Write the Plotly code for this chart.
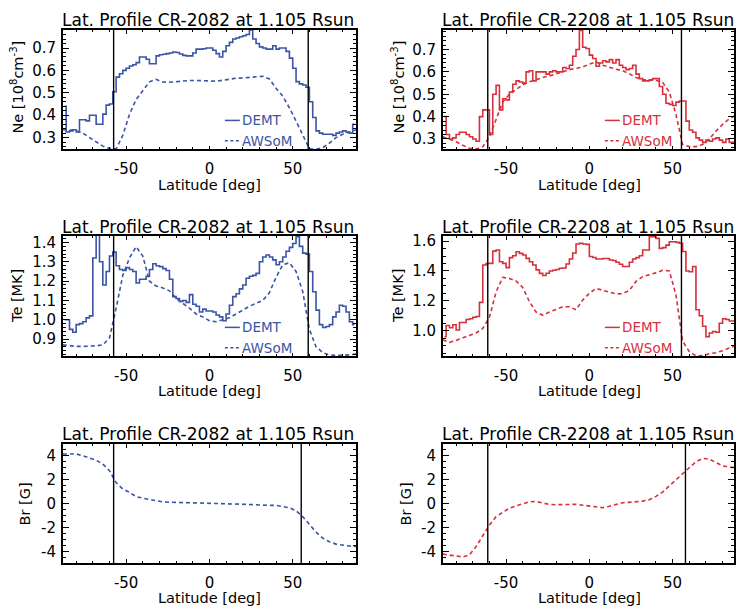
import numpy as np
import plotly.graph_objects as go

W, H = 736, 609
FONT = "DejaVu Sans"
BLUE = "#3b54a6"
RED = "#d6303c"

# ---------------- data ----------------
lat_bins = list(range(-87, 88, 2))    # DEMT 2-deg latitude bins (centres)
lat_model = list(range(-88, 89, 4))   # AWSoM sampling latitudes

lat_tick_vals = [-50, 0, 50]
lat_tick_text = ["-50", "0", "50"]
ne_tick_vals = [0.3, 0.4, 0.5, 0.6, 0.7]
te1_tick_vals = [0.9, 1.0, 1.1, 1.2, 1.3, 1.4]
te2_tick_vals = [1.0, 1.2, 1.4, 1.6]
br_tick_vals = [-4, -2, 0, 2, 4]

title_2082 = "Lat. Profile CR-2082 at 1.105 Rsun"
title_2208 = "Lat. Profile CR-2208 at 1.105 Rsun"
series_names = ["DEMT", "AWSoM"]

ne_demt_2082 = [
    0.44, 0.325, 0.33, 0.335, 0.325, 0.38, 0.38, 0.375, 0.40, 0.40, 0.36, 0.36,
    0.405, 0.445, 0.45, 0.505, 0.57, 0.585, 0.60, 0.61, 0.62, 0.625, 0.635, 0.66,
    0.66, 0.65, 0.63, 0.63, 0.665, 0.67, 0.672, 0.675, 0.678, 0.682, 0.68, 0.673,
    0.667, 0.665, 0.665, 0.678, 0.695, 0.695, 0.697, 0.70,
    0.70, 0.69, 0.675, 0.66, 0.685, 0.71, 0.725, 0.74, 0.745, 0.75, 0.755, 0.76,
    0.781, 0.74, 0.72, 0.705, 0.70, 0.695, 0.695, 0.71, 0.695, 0.70, 0.70, 0.685,
    0.655, 0.61, 0.55, 0.54, 0.535, 0.525, 0.46, 0.39, 0.33, 0.32, 0.315, 0.315,
    0.315, 0.31, 0.32, 0.325, 0.33, 0.325, 0.32, 0.36]
ne_awsom_2082 = [
    0.335, 0.335, 0.33, 0.32, 0.30, 0.28, 0.262, 0.252, 0.25, 0.31, 0.404, 0.47,
    0.51, 0.549, 0.56, 0.548, 0.547, 0.55, 0.553, 0.555, 0.555, 0.555, 0.553,
    0.552, 0.556, 0.562, 0.565, 0.566, 0.568, 0.57, 0.574, 0.562, 0.52, 0.485,
    0.433, 0.374, 0.31, 0.25, 0.248, 0.255, 0.275, 0.30, 0.315, 0.325, 0.335]

ne_demt_2208 = [
    0.40, 0.32, 0.30, 0.305, 0.32, 0.33, 0.33, 0.32, 0.31, 0.30, 0.29, 0.40,
    0.43, 0.43, 0.32, 0.50, 0.54, 0.43, 0.48, 0.475, 0.51, 0.545, 0.56, 0.555,
    0.55, 0.60, 0.605, 0.56, 0.60, 0.60, 0.60, 0.59, 0.60, 0.605, 0.60, 0.60,
    0.62, 0.615, 0.63, 0.67, 0.70, 0.785, 0.71, 0.705,
    0.675, 0.66, 0.625, 0.64, 0.65, 0.645, 0.655, 0.64, 0.655, 0.63, 0.62, 0.61,
    0.615, 0.63, 0.59, 0.57, 0.56, 0.56, 0.565, 0.57, 0.57, 0.535, 0.50, 0.46,
    0.455, 0.45, 0.465, 0.47, 0.47, 0.38, 0.34, 0.33, 0.305, 0.295, 0.285, 0.295,
    0.29, 0.30, 0.305, 0.295, 0.285, 0.30, 0.285, 0.285]
ne_awsom_2208 = [
    0.31, 0.30, 0.288, 0.272, 0.258, 0.255, 0.265, 0.31, 0.39, 0.465, 0.50, 0.52,
    0.542, 0.556, 0.566, 0.575, 0.582, 0.59, 0.60, 0.61, 0.617, 0.622, 0.635,
    0.645, 0.63, 0.62, 0.612, 0.605, 0.592, 0.575, 0.566, 0.563, 0.563, 0.553,
    0.51, 0.41, 0.275, 0.266, 0.266, 0.275, 0.30, 0.335, 0.365, 0.39, 0.405]

te_demt_2082 = [
    1.00, 1.00, 0.95, 0.935, 0.975, 0.98, 0.99, 1.01, 1.02, 1.32, 1.46, 1.30,
    1.18, 1.25, 1.33, 1.35, 1.28, 1.26, 1.255, 1.27, 1.26, 1.25, 1.19, 1.21,
    1.21, 1.225, 1.26, 1.29, 1.28, 1.275, 1.265, 1.255, 1.21, 1.12, 1.11, 1.095,
    1.10, 1.09, 1.13, 1.08, 1.07, 1.04, 1.055, 1.045,
    1.045, 1.04, 1.025, 1.015, 0.995, 1.03, 1.075, 1.12, 1.135, 1.16, 1.18, 1.215,
    1.225, 1.23, 1.24, 1.30, 1.325, 1.335, 1.325, 1.31, 1.285, 1.30, 1.325, 1.355,
    1.375, 1.395, 1.43, 1.38, 1.345, 1.34, 1.25, 1.145, 1.05, 0.975, 0.96, 0.965,
    0.975, 1.015, 1.04, 1.075, 1.07, 1.04, 0.99, 0.975]
te_awsom_2082 = [
    0.87, 0.865, 0.862, 0.862, 0.862, 0.865, 0.87, 0.905, 1.06, 1.23, 1.32, 1.378,
    1.33, 1.20, 1.175, 1.165, 1.15, 1.11, 1.085, 1.06, 1.03, 1.015, 0.995, 0.99,
    1.00, 1.01, 1.03, 1.05, 1.07, 1.085, 1.10, 1.14, 1.22, 1.285, 1.295, 1.25,
    1.146, 0.95, 0.86, 0.83, 0.818, 0.815, 0.815, 0.818, 0.822]

te_demt_2208 = [
    0.96, 1.035, 1.02, 1.04, 1.005, 1.055, 1.055, 1.075, 1.08, 1.09, 1.095, 1.19,
    1.44, 1.45, 1.451, 1.533, 1.54, 1.462, 1.451, 1.422, 1.489, 1.502, 1.529, 1.518,
    1.507, 1.484, 1.462, 1.44, 1.407, 1.384, 1.37, 1.385, 1.40, 1.405, 1.41, 1.418,
    1.42, 1.447, 1.48, 1.52, 1.58, 1.585, 1.58, 1.578,
    1.497, 1.49, 1.48, 1.48, 1.483, 1.483, 1.473, 1.47, 1.458, 1.445, 1.43, 1.43,
    1.458, 1.48, 1.489, 1.502, 1.54, 1.54, 1.629, 1.629, 1.618, 1.551, 1.556, 1.573,
    1.596, 1.596, 1.591, 1.585, 1.53, 1.40, 1.395, 1.43, 1.14, 1.10, 1.03, 0.96,
    0.985, 0.995, 0.99, 1.05, 1.08, 1.075, 1.065, 1.065]
te_awsom_2208 = [
    0.94, 0.922, 0.935, 0.95, 0.965, 0.985, 1.015, 1.09, 1.26, 1.357, 1.35, 1.333,
    1.29, 1.195, 1.125, 1.103, 1.125, 1.14, 1.16, 1.16, 1.14, 1.205, 1.25, 1.283,
    1.27, 1.255, 1.246, 1.248, 1.27, 1.33, 1.362, 1.375, 1.387, 1.405, 1.40, 1.24,
    0.93, 0.86, 0.832, 0.833, 0.846, 0.853, 0.866, 0.885, 0.90]

br_awsom_2082 = [
    4.15, 4.18, 4.15, 4.0, 3.8, 3.62, 3.3, 2.75, 1.75, 1.22, 0.94, 0.58, 0.45,
    0.33, 0.19, 0.13, 0.11, 0.10, 0.09, 0.07, 0.06, 0.05, 0.03, 0.0, -0.01, -0.02,
    -0.04, -0.06, -0.08, -0.12, -0.15, -0.16, -0.15, -0.25, -0.36, -0.6, -1.1,
    -1.75, -2.4, -2.9, -3.2, -3.4, -3.5, -3.56, -3.6]
br_awsom_2208 = [
    -4.24, -4.3, -4.38, -4.47, -4.3, -3.6, -2.7, -1.8, -1.1, -0.75, -0.38, -0.2,
    0.0, 0.15, 0.17, 0.03, -0.08, -0.1, -0.08, -0.07, -0.07, -0.14, -0.2, -0.27,
    -0.35, -0.23, -0.06, 0.06, 0.1, 0.15, 0.2, 0.32, 0.6, 0.96, 1.45, 1.98, 2.46,
    3.0, 3.5, 3.78, 3.72, 3.42, 3.15, 3.04, 3.0]

boundary_2082_ne_te = [-57.5, 59.3]
boundary_2082_br = [-57.5, 55.1]
boundary_2208_ne_te = [-61.0, 55.3]
boundary_2208_br = [-61.0, 57.7]

# ---------------- layout geometry (pixels) ----------------
def px(x):
    return x / W

def py(y):
    return 1 - y / H

cols = [dict(x0=63, x1=357, xr=[-88, 88], title_x=60, ytitle_x=17),
        dict(x0=444, x1=736, xr=[-88, 86.85], title_x=441.5, ytitle_x=399)]
rows = [dict(y0=27, y1=147, title_y=17.5, xt_y=182),
        dict(y0=234, y1=355, title_y=225.5, xt_y=389.5),
        dict(y0=443, y1=563, title_y=433.5, xt_y=597.8)]

ne_title = "Ne [10<sup>8</sup>cm<sup>-3</sup>]"
panels = [
    dict(r=0, c=0, color=BLUE, title=title_2082, demt=ne_demt_2082, awsom=ne_awsom_2082,
         yr=[0.248, 0.781], ticks=ne_tick_vals, minor=0.02, fmt="{:.1f}", ytitle=ne_title,
         bounds=boundary_2082_ne_te, legend=True),
    dict(r=0, c=1, color=RED, title=title_2208, demt=ne_demt_2208, awsom=ne_awsom_2208,
         yr=[0.254, 0.788], ticks=ne_tick_vals, minor=0.02, fmt="{:.1f}", ytitle=ne_title,
         bounds=boundary_2208_ne_te, legend=True),
    dict(r=1, c=0, color=BLUE, title=title_2082, demt=te_demt_2082, awsom=te_awsom_2082,
         yr=[0.811, 1.4345], ticks=te1_tick_vals, minor=0.02, fmt="{:.1f}", ytitle="Te [MK]",
         bounds=boundary_2082_ne_te, legend=True),
    dict(r=1, c=1, color=RED, title=title_2208, demt=te_demt_2208, awsom=te_awsom_2208,
         yr=[0.829, 1.635], ticks=te2_tick_vals, minor=0.05, fmt="{:.1f}", ytitle="Te [MK]",
         bounds=boundary_2208_ne_te, legend=True),
    dict(r=2, c=0, color=BLUE, title=title_2082, demt=None, awsom=br_awsom_2082,
         yr=[-5, 5], ticks=br_tick_vals, minor=0.5, fmt="{:d}", ytitle="Br [G]",
         bounds=boundary_2082_br, legend=False, ytitle_dx=8),
    dict(r=2, c=1, color=RED, title=title_2208, demt=None, awsom=br_awsom_2208,
         yr=[-5, 5], ticks=br_tick_vals, minor=0.5, fmt="{:d}", ytitle="Br [G]",
         bounds=boundary_2208_br, legend=False, ytitle_dx=8),
]

fig = go.Figure()
layout = dict(width=W, height=H, margin=dict(l=0, r=0, t=0, b=0),
              paper_bgcolor="white", plot_bgcolor="white", showlegend=False,
              font=dict(family=FONT, size=15, color="black"))
annotations, shapes = [], []
DASH = "4px,3px"

for i, p in enumerate(panels, start=1):
    c, r = cols[p["c"]], rows[p["r"]]
    key = "" if i == 1 else str(i)
    xa, ya = "x" + key, "y" + key
    if p["demt"] is not None:
        fig.add_trace(go.Scatter(x=lat_bins, y=p["demt"], mode="lines", name=series_names[0],
                                 line=dict(color=p["color"], width=1.6, shape="hvh"),
                                 xaxis=xa, yaxis=ya))
    fig.add_trace(go.Scatter(x=lat_model, y=p["awsom"], mode="lines", name=series_names[1],
                             line=dict(color=p["color"], width=1.6, dash=DASH),
                             xaxis=xa, yaxis=ya))
    xminor = [float(v) for v in np.arange(-80, 90, 10)]
    layout["xaxis" + key] = dict(
        domain=[px(c["x0"]), px(c["x1"])], anchor=ya, range=c["xr"],
        tickmode="array", tickvals=lat_tick_vals, ticktext=lat_tick_text,
        ticks="inside", ticklen=4, tickwidth=1, tickcolor="black",
        minor=dict(tickmode="array", tickvals=xminor, ticks="inside", ticklen=2.5,
                   tickwidth=1, tickcolor="black"),
        showline=True, linecolor="black", linewidth=1.5, mirror="allticks",
        showgrid=False, zeroline=False, tickfont=dict(size=15), ticklabelstandoff=5)
    lo, hi = p["yr"]
    st = p["minor"]
    yminor = [round(float(v), 4) for v in np.arange(np.ceil(lo / st) * st, hi, st)]
    layout["yaxis" + key] = dict(
        domain=[py(r["y1"]), py(r["y0"])], anchor=xa, range=p["yr"],
        tickmode="array", tickvals=p["ticks"], ticktext=[p["fmt"].format(v) for v in p["ticks"]],
        ticks="inside", ticklen=6, tickwidth=1, tickcolor="black",
        minor=dict(tickmode="array", tickvals=yminor, ticks="inside", ticklen=3,
                   tickwidth=1, tickcolor="black"),
        showline=True, linecolor="black", linewidth=1.5, mirror="allticks",
        showgrid=False, zeroline=False, tickfont=dict(size=15), ticklabelstandoff=2)

    # boundary lines
    for b in p["bounds"]:
        shapes.append(dict(type="line", xref=xa, yref=ya + " domain", x0=b, x1=b, y0=0, y1=1,
                           line=dict(color="black", width=1.4)))
    # panel title
    annotations.append(dict(text=p["title"], xref="paper", yref="paper", x=px(c["title_x"]),
                            y=py(r["title_y"]), xanchor="left", yanchor="middle",
                            showarrow=False, font=dict(size=17)))
    # axis titles
    annotations.append(dict(text="Latitude [deg]", xref="paper", yref="paper",
                            x=px((c["x0"] + c["x0"] + 295) / 2), y=py(r["xt_y"] + 0.5),
                            xanchor="center", yanchor="middle", showarrow=False,
                            font=dict(size=14.5)))
    annotations.append(dict(text=p["ytitle"], xref="paper", yref="paper",
                            x=px(c["ytitle_x"] + p.get("ytitle_dx", 0)),
                            y=py((r["y0"] + r["y1"]) / 2 - (3 if p["r"] == 0 else 0)),
                            xanchor="center", yanchor="middle", textangle=-90,
                            showarrow=False, font=dict(size=14.5)))
    # legend
    if p["legend"]:
        lx0 = c["x0"] + 162.5
        for j, (nm, dash) in enumerate(zip(series_names, ["solid", "3px,2.5px"])):
            yy = r["y1"] - 29 + 20.5 * j
            shapes.append(dict(type="line", xref="paper", yref="paper",
                               x0=px(lx0), x1=px(lx0 + 15), y0=py(yy), y1=py(yy),
                               line=dict(color=p["color"], width=1.5, dash=dash)))
            annotations.append(dict(text=nm, xref="paper", yref="paper", x=px(lx0 + 15.5),
                                    y=py(yy), xanchor="left", yanchor="middle",
                                    showarrow=False, font=dict(size=13.5, color=p["color"])))

layout["annotations"] = annotations
layout["shapes"] = shapes
fig.update_layout(**layout)
fig.write_html("out.html")
